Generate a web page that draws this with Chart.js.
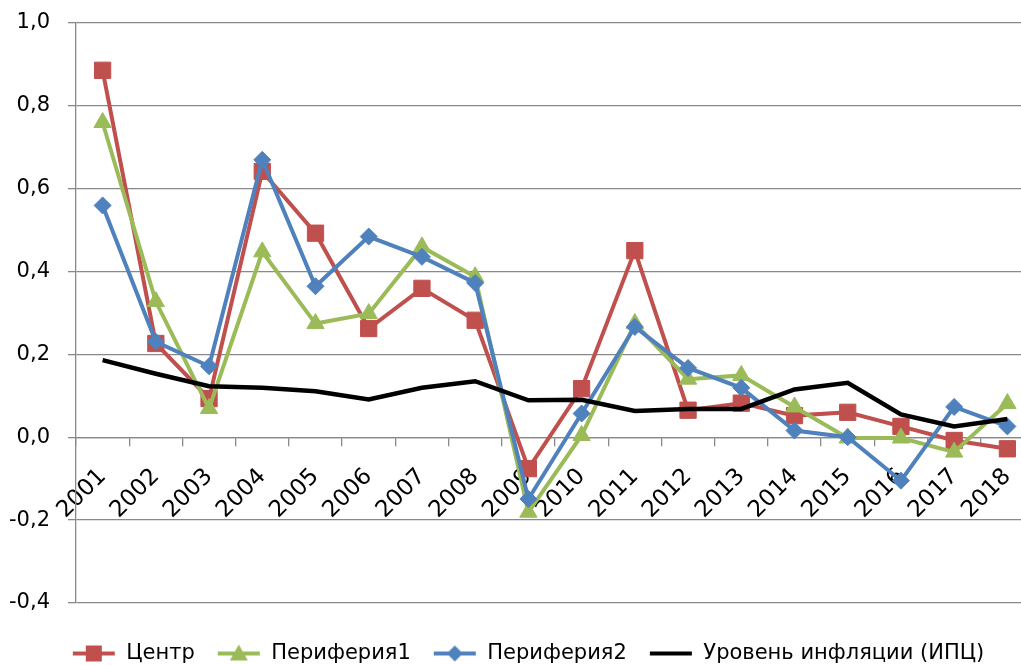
<!DOCTYPE html>
<html>
<head>
<meta charset="utf-8">
<script src="https://cdn.jsdelivr.net/npm/chart.js@4"></script>
<style>
html, body { margin: 0; padding: 0; overflow: hidden; background: #fff; }
#wrap { width: 1056px; height: 673px; margin-top: -8px; position: relative; }
</style>
</head>
<body>
<div id="wrap"><canvas id="chart"></canvas></div>
<script>
// Годы
const years = ['2001', '2002', '2003', '2004', '2005', '2006', '2007', '2008', '2009',
               '2010', '2011', '2012', '2013', '2014', '2015', '2016', '2017', '2018'];

// Ряды данных
const centr = [0.885, 0.226, 0.093, 0.641, 0.492, 0.262, 0.359, 0.282, -0.076,
               0.117, 0.450, 0.065, 0.082, 0.052, 0.060, 0.026, -0.008, -0.028];
const periferia1 = [0.759, 0.327, 0.069, 0.447, 0.274, 0.298, 0.459, 0.387, -0.181,
                    0.004, 0.274, 0.140, 0.149, 0.073, -0.002, -0.002, -0.036, 0.081];
const periferia2 = [0.559, 0.230, 0.171, 0.669, 0.364, 0.484, 0.435, 0.372, -0.149,
                    0.057, 0.266, 0.167, 0.119, 0.016, 0.000, -0.105, 0.073, 0.026];
const inflation = [0.186, 0.153, 0.123, 0.119, 0.111, 0.091, 0.119, 0.135, 0.089,
                   0.090, 0.063, 0.068, 0.068, 0.115, 0.131, 0.055, 0.026, 0.044];

// Деления оси Y
const yMin = -0.4;
const yMax = 1.0;
const yStep = 0.2;

const RED = '#C0504D';
const GREEN = '#9BBB59';
const BLUE = '#4F81BD';
const GRID = '#898989';
const FONT = '"DejaVu Sans", sans-serif';

// Значок легенды: линия с маркером посередине
function legendIcon(color, style) {
    const c = document.createElement('canvas');
    c.width = 44;
    c.height = 20;
    const g = c.getContext('2d');
    g.strokeStyle = color;
    g.lineWidth = 4;
    g.beginPath();
    g.moveTo(1, 10);
    g.lineTo(43, 10);
    g.stroke();
    g.fillStyle = color;
    g.beginPath();
    if (style === 'rect') {
        g.rect(14, 2, 16, 16);
    } else if (style === 'triangle') {
        g.moveTo(22, 1); g.lineTo(31, 17); g.lineTo(13, 17); g.closePath();
    } else if (style === 'rectRot') {
        g.moveTo(22, 2); g.lineTo(30, 10); g.lineTo(22, 18); g.lineTo(14, 10); g.closePath();
    }
    g.fill();
    return c;
}

const icons = [
    legendIcon(RED, 'rect'),
    legendIcon(GREEN, 'triangle'),
    legendIcon(BLUE, 'rectRot'),
    legendIcon('#000', null)
];

new Chart(document.getElementById('chart'), {
    type: 'line',
    data: {
        labels: years,
        datasets: [{
            label: 'Центр',
            data: centr,
            borderColor: RED,
            backgroundColor: RED,
            borderWidth: 4,
            pointStyle: 'rect',
            pointRadius: 11.5,
            pointBorderWidth: 1,
            order: 4
        }, {
            label: 'Периферия1',
            data: periferia1,
            borderColor: GREEN,
            backgroundColor: GREEN,
            borderWidth: 4,
            pointStyle: 'triangle',
            pointRadius: 10,
            pointBorderWidth: 1,
            order: 3
        }, {
            label: 'Периферия2',
            data: periferia2,
            borderColor: BLUE,
            backgroundColor: BLUE,
            borderWidth: 4,
            pointStyle: 'rectRot',
            pointRadius: 8.5,
            pointBorderWidth: 1,
            order: 2
        }, {
            label: 'Уровень инфляции (ИПЦ)',
            data: inflation,
            borderColor: '#000',
            backgroundColor: '#000',
            borderWidth: 4.5,
            pointRadius: 0,
            order: 1
        }]
    },
    options: {
        responsive: true,
        maintainAspectRatio: false,
        animation: false,
        events: [],
        layout: { padding: { left: 0, right: 0, top: 15, bottom: -9 } },
        scales: {
            x: {
                position: { y: 0 },
                offset: true,
                grid: {
                    offset: true,
                    drawOnChartArea: false,
                    drawTicks: true,
                    tickLength: 8,
                    color: GRID,
                    lineWidth: 1.3
                },
                border: { display: true, color: GRID, width: 1.3 },
                ticks: {
                    minRotation: 45,
                    maxRotation: 45,
                    padding: 18,
                    color: '#000',
                    font: { family: FONT, size: 23 }
                }
            },
            // пустая ось снизу: место между областью графика и легендой
            xGap: {
                position: 'bottom',
                display: true,
                grid: { display: false },
                border: { display: false },
                ticks: { display: false },
                afterFit: (scale) => { scale.height = 18; }
            },
            y: {
                min: yMin,
                max: yMax,
                afterFit: (scale) => { scale.width = 76; },
                grid: {
                    color: GRID,
                    lineWidth: 1.3,
                    tickLength: 8
                },
                border: { display: true, color: GRID, width: 1.3 },
                ticks: {
                    stepSize: yStep,
                    padding: 18,
                    color: '#000',
                    font: { family: FONT, size: 21 },
                    callback: (v) => v.toFixed(1).replace('.', ',').replace('-0,0', '0,0')
                }
            },
            // пустая ось справа: сдвигает легенду к центру, как в оригинале
            yGap: {
                position: 'right',
                display: true,
                grid: { display: false },
                border: { display: false },
                ticks: { display: false },
                afterFit: (scale) => { scale.width = 22; }
            }
        },
        plugins: {
            tooltip: { enabled: false },
            legend: {
                position: 'bottom',
                labels: {
                    usePointStyle: true,
                    pointStyleWidth: 44,
                    padding: 22,
                    color: '#000',
                    font: { family: FONT, size: 21 },
                    generateLabels: (chart) => {
                        const items = Chart.defaults.plugins.legend.labels.generateLabels(chart);
                        items.sort((a, b) => a.datasetIndex - b.datasetIndex);
                        items.forEach((it) => { it.pointStyle = icons[it.datasetIndex]; });
                        return items;
                    }
                }
            }
        }
    }
});
</script>
</body>
</html>
